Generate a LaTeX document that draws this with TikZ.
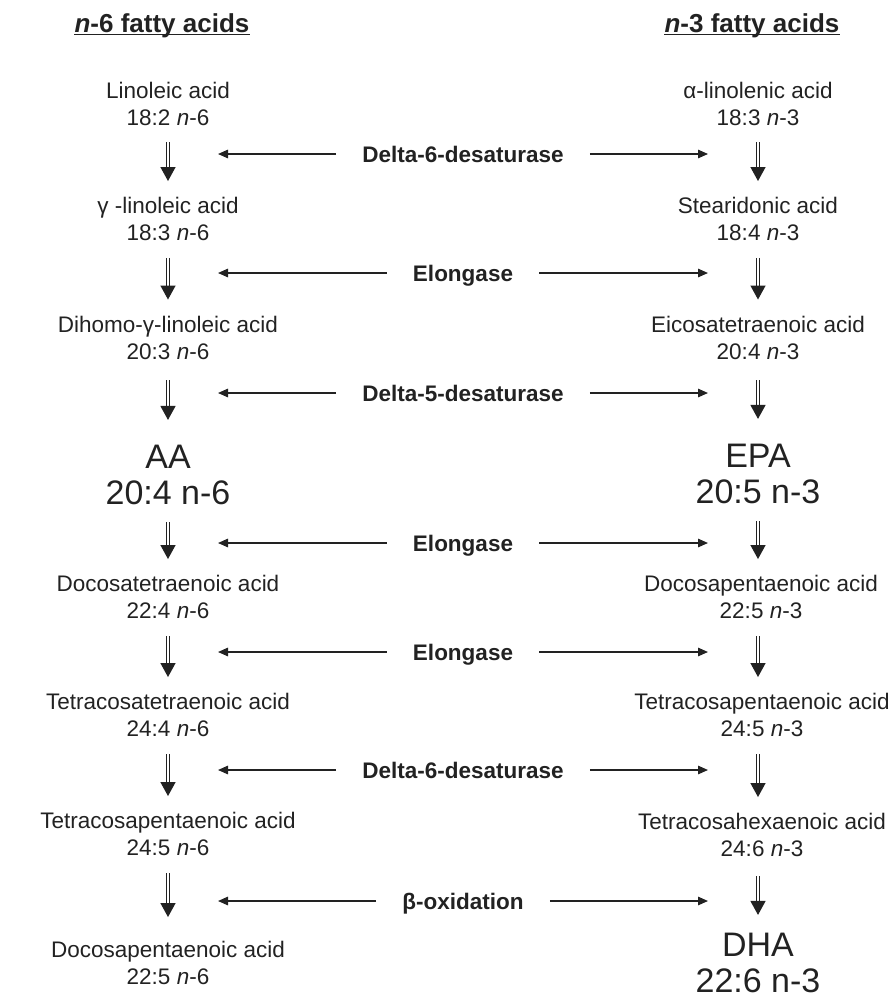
\documentclass[tikz,border=0pt]{standalone}
\usepackage{fontspec}
\setmainfont{Liberation Sans}
\usetikzlibrary{arrows.meta}
\definecolor{ink}{HTML}{222222}
\tikzset{
  acid/.style={align=center, inner sep=0pt, text=ink, font=\fontsize{22.5}{27}\selectfont},
  big/.style={align=center, inner sep=0pt, text=ink, font=\fontsize{34}{36}\selectfont},
  head/.style={anchor=base, inner sep=0pt, text=ink, font=\fontsize{26}{30}\selectfont\bfseries},
  enzyme/.style={anchor=base, inner xsep=26pt, inner ysep=0pt, text=ink, font=\fontsize{22.5}{27}\selectfont\bfseries},
  conv/.style={draw=ink, double, double distance=2.2pt, line width=1.3pt, shorten <=17pt, shorten >=16pt,
    -{Triangle[length=14pt,width=15pt]}},
  enz/.style={draw=ink, line width=1.4pt, -{Triangle[length=10pt,width=8.5pt]}}
}
\begin{document}
\begin{tikzpicture}[x=1pt,y=-1pt]
\useasboundingbox (0,0) rectangle (893,1001);
\node[head] (h6) at (162,32) {\textit{n}-6 fatty acids};
\node[head] (h3) at (752,32) {\textit{n}-3 fatty acids};
\draw[ink, line width=1.4pt] ([yshift=-2.5pt]h6.base west) -- ([yshift=-2.5pt]h6.base east);
\draw[ink, line width=1.4pt] ([yshift=-2.5pt]h3.base west) -- ([yshift=-2.5pt]h3.base east);

\node[acid] (l1) at (168,103.5) {Linoleic acid\\18:2 \textit{n}-6};
\node[acid] (l2) at (168,219) {γ -linoleic acid\\18:3 \textit{n}-6};
\node[acid] (l3) at (168,337.5) {Dihomo-γ-linoleic acid\\20:3 \textit{n}-6};
\node[big]  (l4) at (168,475) {AA\\20:4 n-6};
\node[acid] (l5) at (168,597) {Docosatetraenoic acid\\22:4 \textit{n}-6};
\node[acid] (l6) at (168,715) {Tetracosatetraenoic acid\\24:4 \textit{n}-6};
\node[acid] (l7) at (168,834) {Tetracosapentaenoic acid\\24:5 \textit{n}-6};
\node[acid] (l8) at (168,963) {Docosapentaenoic acid\\22:5 \textit{n}-6};

\node[acid] (r1) at (758,103.5) {α-linolenic acid\\18:3 \textit{n}-3};
\node[acid] (r2) at (758,219) {Stearidonic acid\\18:4 \textit{n}-3};
\node[acid] (r3) at (758,337.5) {Eicosatetraenoic acid\\20:4 \textit{n}-3};
\node[big]  (r4) at (758,474) {EPA\\20:5 n-3};
\node[acid] (r5) at (761,597) {Docosapentaenoic acid\\22:5 \textit{n}-3};
\node[acid] (r6) at (762,715) {Tetracosapentaenoic acid\\24:5 \textit{n}-3};
\node[acid] (r7) at (762,835) {Tetracosahexaenoic acid\\24:6 \textit{n}-3};
\node[big]  (r8) at (758,963) {DHA\\22:6 n-3};

\foreach \a/\b in {1/2,2/3,4/5,5/6,6/7}{
  \draw[conv] (l\a.south -| l1) -- (l\b.north -| l1);
  \draw[conv] (r\a.south -| r1) -- (r\b.north -| r1);
}
\draw[conv, shorten <=21pt, shorten >=25pt] (l3) -- (l4);
\draw[conv, shorten <=21pt, shorten >=25pt] (r3) -- (r4);
\draw[conv, shorten >=24pt] (l7) -- (l8);
\draw[conv, shorten <=19pt, shorten >=18pt] (r7.south -| r1) -- (r8);

\foreach \y/\name [count=\i] in {154/Delta-6-desaturase, 273/Elongase, 393/Delta-5-desaturase,
    543/Elongase, 652/Elongase, 770/Delta-6-desaturase, 901/β-oxidation}{
  \coordinate (L\i) at (218,\y);
  \coordinate (R\i) at (708,\y);
  \node[enzyme] (e\i) at (463,\y+8) {\name};
  \draw[enz] (e\i.west |- L\i) -- (L\i);
  \draw[enz] (e\i.east |- R\i) -- (R\i);
}
\end{tikzpicture}
\end{document}
